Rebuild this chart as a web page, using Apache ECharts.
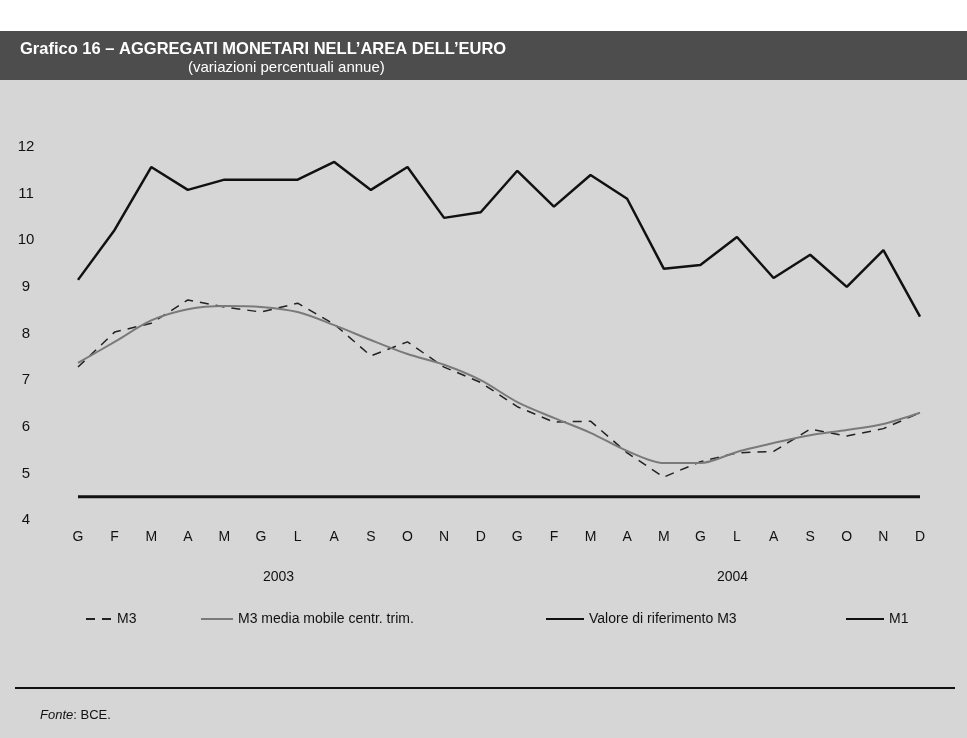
<!DOCTYPE html>
<html>
<head>
<meta charset="utf-8">
<script src="https://cdn.jsdelivr.net/npm/echarts@6/dist/echarts.min.js"></script>
<style>
  html, body { margin: 0; padding: 0; background: #fff; }
  #chart { width: 967px; height: 738px; }
</style>
</head>
<body>
<div id="chart"></div>
<script>
// mesi 2003-2004
const months = ["G", "F", "M", "A", "M", "G", "L", "A", "S", "O", "N", "D",
                "G", "F", "M", "A", "M", "G", "L", "A", "S", "O", "N", "D"];
const years = ["2003", "2004"];

const m3 = [7.28, 8.03, 8.22, 8.72, 8.57, 8.46, 8.65, 8.2, 7.52, 7.82, 7.28, 6.95,
            6.43, 6.1, 6.12, 5.44, 4.92, 5.25, 5.44, 5.47, 5.95, 5.8, 5.96, 6.3];
const m3Media = [7.37, 7.82, 8.28, 8.52, 8.59, 8.57, 8.46, 8.18, 7.86, 7.56, 7.33, 7.0,
                 6.53, 6.19, 5.87, 5.48, 5.22, 5.22, 5.46, 5.65, 5.82, 5.93, 6.06, 6.3];
const riferimento = [4.5, 4.5, 4.5, 4.5, 4.5, 4.5, 4.5, 4.5, 4.5, 4.5, 4.5, 4.5,
                     4.5, 4.5, 4.5, 4.5, 4.5, 4.5, 4.5, 4.5, 4.5, 4.5, 4.5, 4.5];
const m1 = [9.15, 10.22, 11.57, 11.08, 11.3, 11.3, 11.3, 11.68, 11.08, 11.57, 10.48, 10.6,
            11.49, 10.72, 11.4, 10.89, 9.39, 9.47, 10.07, 9.19, 9.69, 9.0, 9.79, 8.36];

const font = "Liberation Sans, Arial, sans-serif";

let chartDom = document.getElementById("chart");
let myChart = echarts.init(chartDom);
let option;

const legendItem = (name, left, width) => ({
  data: [name],
  left: left,
  top: 607,
  itemWidth: width,
  itemHeight: 10,
  itemGap: 6,
  itemStyle: { opacity: 0 },
  textStyle: { color: "#111", fontSize: 14, fontFamily: font }
});

option = {
  animation: false,
  backgroundColor: "#fff",
  graphic: {
    elements: [
      // fondo retinato
      { type: "rect", shape: { x: 0, y: 80, width: 967, height: 658 }, style: { fill: "#d6d6d6" }, z: -10 },
      // banda del titolo
      { type: "rect", shape: { x: 0, y: 31, width: 967, height: 49 }, style: { fill: "#4d4d4d" }, z: -10 },
      {
        type: "text", left: 20, top: 41,
        style: {
          text: "Grafico 16 – AGGREGATI MONETARI NELL’AREA DELL’EURO",
          fill: "#fff", fontSize: 16.5, fontWeight: "bold", fontFamily: font
        }
      },
      {
        type: "text", left: 188, top: 60,
        style: { text: "(variazioni percentuali annue)", fill: "#fff", fontSize: 15, fontFamily: font }
      },
      // anni
      { type: "text", left: 263, top: 570, style: { text: years[0], fill: "#111", fontSize: 14, fontFamily: font } },
      { type: "text", left: 717, top: 570, style: { text: years[1], fill: "#111", fontSize: 14, fontFamily: font } },
      // linea fonte
      { type: "line", shape: { x1: 15, y1: 688, x2: 955, y2: 688 }, style: { stroke: "#111", lineWidth: 2 } },
      {
        type: "text", left: 40, top: 709,
        style: {
          text: "{i|Fonte}: BCE.",
          fill: "#111", fontSize: 13, fontFamily: font,
          rich: { i: { fontStyle: "italic", fontSize: 13, fontFamily: font, fill: "#111" } }
        }
      }
    ]
  },
  legend: [
    legendItem("M3", 80, 26),
    legendItem("M3 media mobile centr. trim.", 195, 32),
    legendItem("Valore di riferimento M3", 540, 38),
    legendItem("M1", 840, 38)
  ],
  grid: { left: 78, right: 47, top: 147, bottom: 218 },
  xAxis: {
    type: "category",
    data: months,
    boundaryGap: false,
    axisLine: { show: false },
    axisTick: { show: false },
    splitLine: { show: false },
    axisLabel: { color: "#111", fontSize: 14, fontFamily: font, margin: 10, interval: 0 }
  },
  yAxis: {
    type: "value",
    min: 4,
    max: 12,
    interval: 1,
    axisLine: { show: false },
    axisTick: { show: false },
    splitLine: { show: false },
    axisLabel: { color: "#111", fontSize: 15, fontFamily: font, align: "center", margin: 52 }
  },
  series: [
    {
      name: "M3", type: "line", data: m3, symbol: "none",
      lineStyle: { color: "#222", width: 1.5, type: [9, 7] }, itemStyle: { color: "#222" }
    },
    {
      name: "M3 media mobile centr. trim.", type: "line", data: m3Media, symbol: "none", smooth: 0.3,
      lineStyle: { color: "#7a7a7a", width: 2 }, itemStyle: { color: "#7a7a7a" }
    },
    {
      name: "Valore di riferimento M3", type: "line", data: riferimento, symbol: "none",
      lineStyle: { color: "#111", width: 3 }, itemStyle: { color: "#111" }
    },
    {
      name: "M1", type: "line", data: m1, symbol: "none",
      lineStyle: { color: "#111", width: 2.5 }, itemStyle: { color: "#111" }
    }
  ]
};

option && myChart.setOption(option);
</script>
</body>
</html>
